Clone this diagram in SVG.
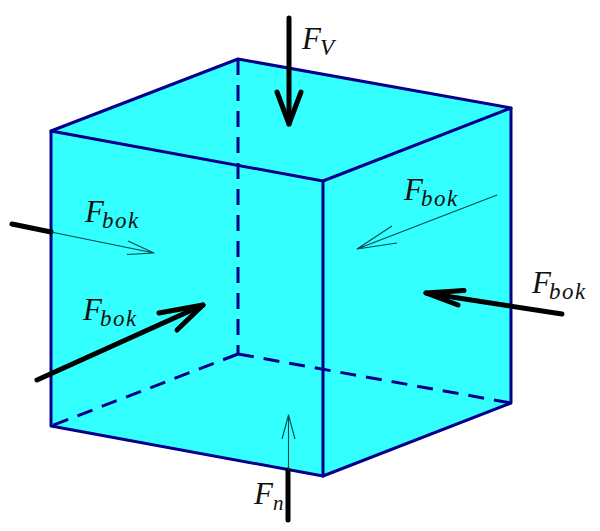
<svg xmlns="http://www.w3.org/2000/svg" width="600" height="531" viewBox="0 0 600 531">
<style>
.edge{fill:none;stroke:#00008b;stroke-width:3;stroke-linejoin:round;stroke-linecap:round}
.dash{fill:none;stroke:#00008b;stroke-width:3;stroke-dasharray:16 10}
.thick{fill:none;stroke:#000;stroke-width:5;stroke-linecap:round;stroke-linejoin:round}
.thin{fill:none;stroke:#004a50;stroke-width:1.1;stroke-linejoin:round}
.f{font-family:"Liberation Serif","DejaVu Serif",serif;font-style:italic;font-size:31px;fill:#111}
.s{font-size:23px;letter-spacing:1.5px}
</style>
<rect width="600" height="531" fill="#fff"/>
<g id="cube">
<polygon points="51,131 238,59 511,108 511,403 323,476 51,426" fill="#33ffff"/>
<path class="dash" d="M238,59V354"/>
<path class="dash" d="M238,354L51,426"/>
<path class="dash" d="M238,354L511,403"/>
<path class="edge" d="M51,131L238,59L511,108L323,181Z"/>
<path class="edge" d="M51,131V426L323,476L511,403V108"/>
<path class="edge" d="M323,181V476"/>
</g>
<g id="connectors">
<path class="thick" d="M289,18V124"/>
<path class="thick" d="M277,92L289,124L301,92"/>
<path class="thick" d="M12,224L51,232"/>
<path class="thin" d="M51,232L154,253M128,241L154,253L127,254.500"/>
<path class="thick" d="M37,380L203,305"/>
<path class="thick" d="M159,313L203,305L177,330"/>
<path class="thin" d="M497,195L357,249M392,226L357,249L397,243"/>
<path class="thick" d="M562,314L426,293"/>
<path class="thick" d="M464,290.500L426,293L458,305"/>
<path class="thick" d="M288,470V520"/>
<path class="thin" d="M288.500,470V415M282,439L288.500,415L295,439"/>
</g>
<g id="label-fv"><text class="f" x="302" y="49">F<tspan class="s" dx="-1" dy="6">V</tspan></text></g>
<g id="label-bok-1"><text class="f" x="85" y="222">F<tspan class="s" dx="-2" dy="6">bok</tspan></text></g>
<g id="label-bok-2"><text class="f" x="83" y="320">F<tspan class="s" dx="-2" dy="6">bok</tspan></text></g>
<g id="label-bok-3"><text class="f" x="404" y="200">F<tspan class="s" dx="-2" dy="6">bok</tspan></text></g>
<g id="label-bok-4"><text class="f" x="532" y="293">F<tspan class="s" dx="-2" dy="6">bok</tspan></text></g>
<g id="label-fn"><text class="f" x="254" y="504">F<tspan class="s" dy="6" style="font-size:21px;letter-spacing:0">n</tspan></text></g>
</svg>
